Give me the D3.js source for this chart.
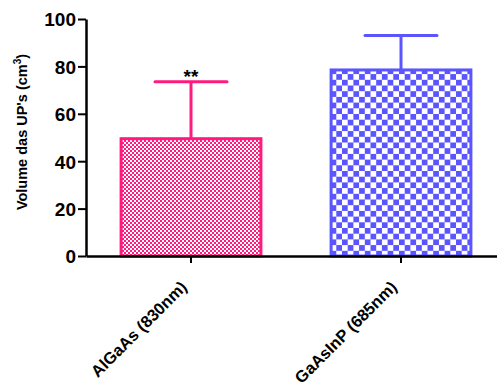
<!DOCTYPE html>
<html>
<head>
<meta charset="utf-8">
<script src="https://cdn.jsdelivr.net/npm/d3@7"></script>
<style>
  body { margin: 0; background: #fff; }
  svg text { font-family: "Liberation Sans", Arial, sans-serif; font-weight: bold; fill: #000; }
</style>
</head>
<body>
<div id="chart"></div>
<script>
// data
var categories = ["AlGaAs (830nm)", "GaAsInP (685nm)"];
var means = [49.5, 78.5];
var errTops = [73.5, 93];
var sigLabels = ["**", ""];
var yTicks = [0, 20, 40, 60, 80, 100];
var colors = ["#ff1a80", "#5a55ff"];

var width = 497, height = 392;

var svg = d3.select('#chart')
  .append('svg')
  .attr('width', width)
  .attr('height', height);

var defs = svg.append('defs');

// checkered fills, small for the pink bar and larger for the blue one
var patSizes = [[4, 4], [11.4, 11.4]];
colors.forEach(function (c, i) {
  var w = patSizes[i][0], h = patSizes[i][1];
  var p = defs.append('pattern')
    .attr('id', 'chk' + i)
    .attr('patternUnits', 'userSpaceOnUse')
    .attr('width', w).attr('height', h);
  p.append('rect').attr('width', w).attr('height', h).attr('fill', '#fff');
  p.append('rect').attr('width', w / 2).attr('height', h / 2).attr('fill', c);
  p.append('rect').attr('x', w / 2).attr('y', h / 2).attr('width', w / 2).attr('height', h / 2).attr('fill', c);
});

var x = d3.scaleBand()
  .domain(categories)
  .range([86, 506])
  .paddingInner(0.32)
  .paddingOuter(0.16);

var y = d3.scaleLinear()
  .domain([0, 100])
  .range([256, 19]);

// bars
svg.selectAll('rect.bar')
  .data(categories).enter()
    .append('rect')
    .attr('class', 'bar')
    .attr('x', function (d) { return x(d) + 1.5; })
    .attr('y', function (d, i) { return y(means[i]); })
    .attr('width', x.bandwidth() - 3)
    .attr('height', function (d, i) { return y(0) - y(means[i]); })
    .attr('fill', function (d, i) { return 'url(#chk' + i + ')'; })
    .attr('stroke', function (d, i) { return colors[i]; })
    .attr('stroke-width', 3);

// error bars
var capHalf = 36;
categories.forEach(function (d, i) {
  var cx = x(d) + x.bandwidth() / 2;
  svg.append('line')
    .attr('x1', cx).attr('x2', cx)
    .attr('y1', y(means[i])).attr('y2', y(errTops[i]))
    .attr('stroke', colors[i]).attr('stroke-width', 3);
  svg.append('line')
    .attr('x1', cx - capHalf).attr('x2', cx + capHalf)
    .attr('y1', y(errTops[i])).attr('y2', y(errTops[i]))
    .attr('stroke', colors[i]).attr('stroke-width', 3)
    .attr('stroke-linecap', 'round');
  if (sigLabels[i]) {
    svg.append('text')
      .attr('x', cx).attr('y', y(errTops[i]) + 1)
      .attr('text-anchor', 'middle')
      .style('font-size', '19px')
      .text(sigLabels[i]);
  }
});

// y axis
var yAxis = svg.append('g')
  .attr('transform', 'translate(86,0)')
  .call(d3.axisLeft(y).tickValues(yTicks).tickSize(8).tickSizeOuter(0).tickPadding(2));
yAxis.select('.domain').attr('stroke', '#000').attr('stroke-width', 2.5);
yAxis.selectAll('.tick line').attr('stroke', '#000').attr('stroke-width', 2);
yAxis.selectAll('.tick text')
  .style('font-size', '19px')
  .attr('dy', '0.36em');

// x axis
var xAxis = svg.append('g')
  .attr('transform', 'translate(0,256)')
  .call(d3.axisBottom(x).tickSize(7).tickSizeOuter(0));
xAxis.select('.domain').attr('stroke', '#000').attr('stroke-width', 2.5);
xAxis.selectAll('.tick line').attr('stroke', '#000').attr('stroke-width', 2);
xAxis.selectAll('.tick text')
  .style('font-size', '16.5px')
  .attr('text-anchor', 'end')
  .attr('y', 0)
  .attr('dy', null)
  .attr('transform', 'translate(-3,32) rotate(-45)');

// y label
var yl = svg.append('text')
  .attr('transform', 'translate(27,132) rotate(-90)')
  .attr('text-anchor', 'middle')
  .style('font-size', '14.5px');
yl.append('tspan').text("Volume das UP's (cm");
yl.append('tspan').style('font-size', '10px').attr('dy', -6).text('3');
yl.append('tspan').attr('dy', 6).text(')');
</script>
</body>
</html>
